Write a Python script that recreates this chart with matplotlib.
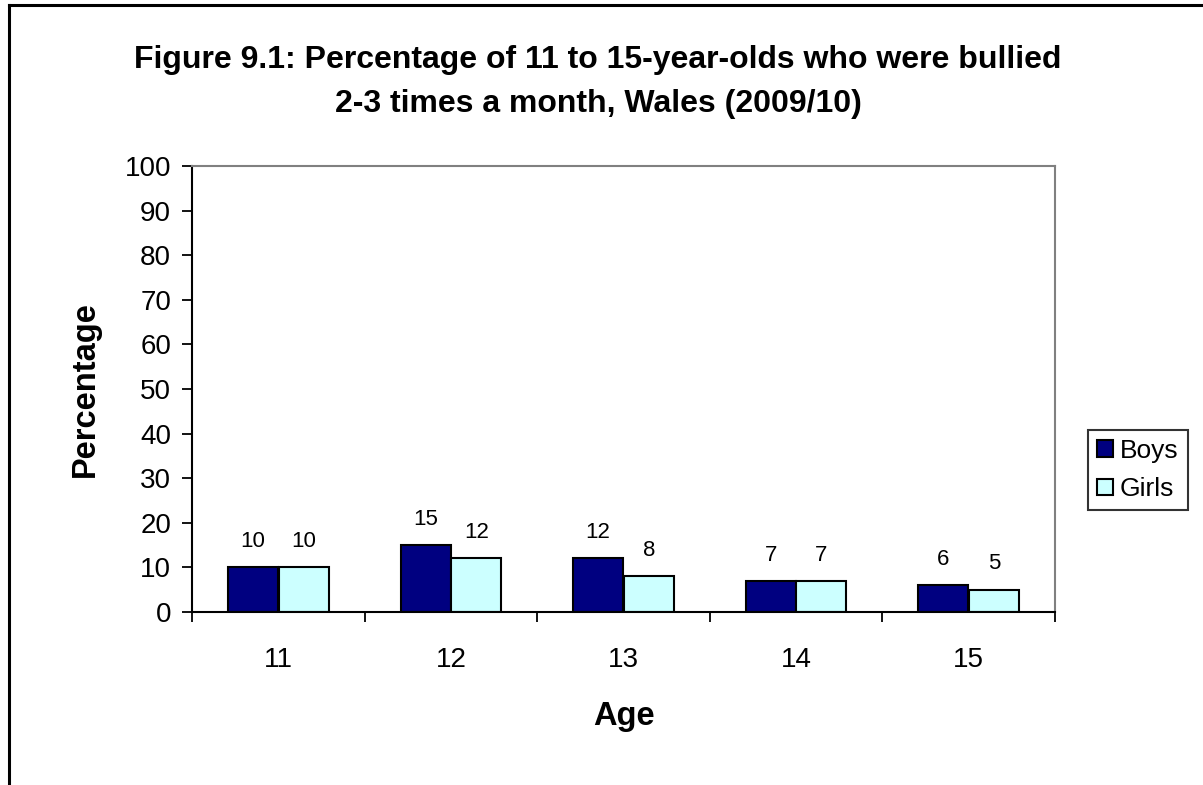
import matplotlib.pyplot as plt
import numpy as np
from matplotlib.lines import Line2D

ages = ["11", "12", "13", "14", "15"]
boys = [10, 15, 12, 7, 6]
girls = [10, 12, 8, 7, 5]

plt.rcParams["font.family"] = ["Liberation Sans", "DejaVu Sans"]

W, H = 1203, 785
fig = plt.figure(figsize=(W / 100, H / 100), dpi=100)
fig.patch.set_facecolor("white")

# outer chart frame (only left and top edges are visible in the crop)
fig.add_artist(Line2D([9 / W, 9 / W], [0, 1 - 5 / H], color="black", lw=2.2,
                      transform=fig.transFigure))
fig.add_artist(Line2D([9 / W, 1], [1 - 5 / H, 1 - 5 / H], color="black", lw=2.2,
                      transform=fig.transFigure))

ax = fig.add_axes([192 / W, 1 - 612 / H, 863 / W, 446 / H])

x = np.arange(len(ages))
w = 0.29
off = 0.147
b1 = ax.bar(x - off, boys, w, color="#000080", edgecolor="black", lw=1.5, label="Boys")
b2 = ax.bar(x + off, girls, w, color="#CCFFFF", edgecolor="black", lw=1.5, label="Girls")

for bars, vals in ((b1, boys), (b2, girls)):
    for r, v in zip(bars, vals):
        ax.annotate(str(v), (r.get_x() + r.get_width() / 2, v),
                    xytext=(0, 11), textcoords="offset points",
                    ha="center", va="bottom", fontsize=16)

ax.set_xlim(-0.5, len(ages) - 0.5)
ax.set_ylim(0, 100)
ax.set_yticks(range(0, 101, 10))
ax.tick_params(axis="y", labelsize=20, length=7, width=1.3, pad=8)

ax.set_xticks(x)
ax.set_xticklabels(ages, fontsize=20)
ax.set_xticks(np.arange(-0.5, len(ages), 1), minor=True)
ax.tick_params(axis="x", which="major", length=0, pad=25)
ax.tick_params(axis="x", which="minor", length=7, width=1.3)

for s in ("left", "bottom"):
    ax.spines[s].set_color("black")
    ax.spines[s].set_linewidth(1.5)
for s in ("top", "right"):
    ax.spines[s].set_color("#808080")
    ax.spines[s].set_linewidth(1.5)

ax.set_xlabel("Age", fontsize=23.5, fontweight="bold", labelpad=20)
ax.set_ylabel("Percentage", fontsize=23.5, fontweight="bold", labelpad=17)

fig.text(598 / W, 1 - 82 / H,
         "Figure 9.1: Percentage of 11 to 15-year-olds who were bullied\n"
         "2-3 times a month, Wales (2009/10)",
         ha="center", va="center", fontsize=23, fontweight="bold",
         linespacing=1.58)

leg = fig.legend(handles=[b1, b2], loc="center left",
                 bbox_to_anchor=(1088 / W, 1 - 470 / H), fontsize=19,
                 frameon=True, fancybox=False, edgecolor="black",
                 handlelength=0.6, handleheight=0.6, handletextpad=0.25,
                 borderpad=0.35, labelspacing=0.55, borderaxespad=0)
leg.get_frame().set_linewidth(1.5)

fig.savefig("out.png", dpi=100)
